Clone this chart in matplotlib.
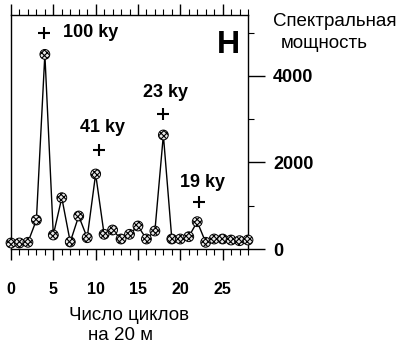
import matplotlib
matplotlib.use("Agg")
import matplotlib.pyplot as plt
from matplotlib.ticker import MultipleLocator

plt.rcParams['font.family'] = ['Liberation Sans', 'DejaVu Sans']
plt.rcParams['hatch.linewidth'] = 0.8

# spectral power vs number of cycles per 20 m
cycles = list(range(29))
power = [139, 139, 155, 670, 4500, 324, 1186, 162, 763, 261,
         1734, 340, 439, 231, 340, 532, 231, 416, 2636, 231,
         231, 284, 631, 155, 231, 231, 208, 192, 208]

# orbital periods marked above the spectral peaks
period_labels = ["100 ky", "41 ky", "23 ky", "19 ky"]
period_cross_x = [3.9, 10.4, 18.0, 22.25]
period_cross_y = [4994, 2289, 3121, 1087]

x_ticks = [0, 5, 10, 15, 20, 25]
y_ticks = [0, 2000, 4000]

fig = plt.figure(figsize=(4.0, 3.46), dpi=100)
ax = fig.add_axes([11 / 400, 1 - 249 / 346, 237 / 400, 234 / 346])

ax.plot(cycles, power, color='black', lw=1.0, zorder=2, clip_on=False)
ax.scatter(cycles, power, s=50, facecolor='#e8e8e8', edgecolor='black',
           hatch='xxxxxx', linewidth=0.7, zorder=3, clip_on=False)

ax.set_xlim(0, 28)
ax.set_ylim(0, 5410)

# crosses and period labels
ax.scatter(period_cross_x, period_cross_y, marker='+', s=70, color='black',
           linewidth=1.5, zorder=4)
ax.text(6.2, 4994, period_labels[0], ha='left', va='center',
        fontsize=13, fontweight='bold')
ax.text(10.77, 2798, period_labels[1], ha='center', va='center',
        fontsize=13, fontweight='bold')
ax.text(18.3, 3607, period_labels[2], ha='center', va='center',
        fontsize=13, fontweight='bold')
ax.text(22.6, 1549, period_labels[3], ha='center', va='center',
        fontsize=13, fontweight='bold')

ax.text(0.916, 0.872, "H", transform=ax.transAxes, ha='center', va='center',
        fontsize=23, fontweight='bold')

# x axis: ticks on bottom and top, pointing outward
ax.set_xticks(x_ticks)
ax.xaxis.set_minor_locator(MultipleLocator(1))
ax.tick_params(axis='x', which='major', direction='out', length=8, width=1,
               top=True, bottom=True, labelsize=11.5, pad=16)
ax.tick_params(axis='x', which='minor', direction='out', length=4.5, width=0.8,
               top=True, bottom=True)
for lbl in ax.get_xticklabels():
    lbl.set_fontweight('bold')

# y axis on the right
ax.yaxis.tick_right()
ax.set_yticks(y_ticks)
ax.yaxis.set_minor_locator(MultipleLocator(1000))
ax.tick_params(axis='y', which='major', direction='out', length=12, width=1,
               left=False, right=True, labelsize=13, pad=6)
ax.tick_params(axis='y', which='minor', direction='out', length=4, width=0.8,
               left=False, right=True)
for lbl in ax.get_yticklabels():
    lbl.set_fontweight('bold')

for sp in ax.spines.values():
    sp.set_linewidth(1.0)

fig.text(335 / 400, 1 - 22 / 346, "Спектральная", ha='center', va='center',
         fontsize=13.5)
fig.text(324 / 400, 1 - 43 / 346, "мощность", ha='center', va='center',
         fontsize=13.5)
fig.text(129 / 400, 1 - 315 / 346, "Число циклов", ha='center', va='center',
         fontsize=13.5)
fig.text(121 / 400, 1 - 335 / 346, "на 20 м", ha='center', va='center',
         fontsize=13.5)

fig.savefig("out.png", dpi=100)
